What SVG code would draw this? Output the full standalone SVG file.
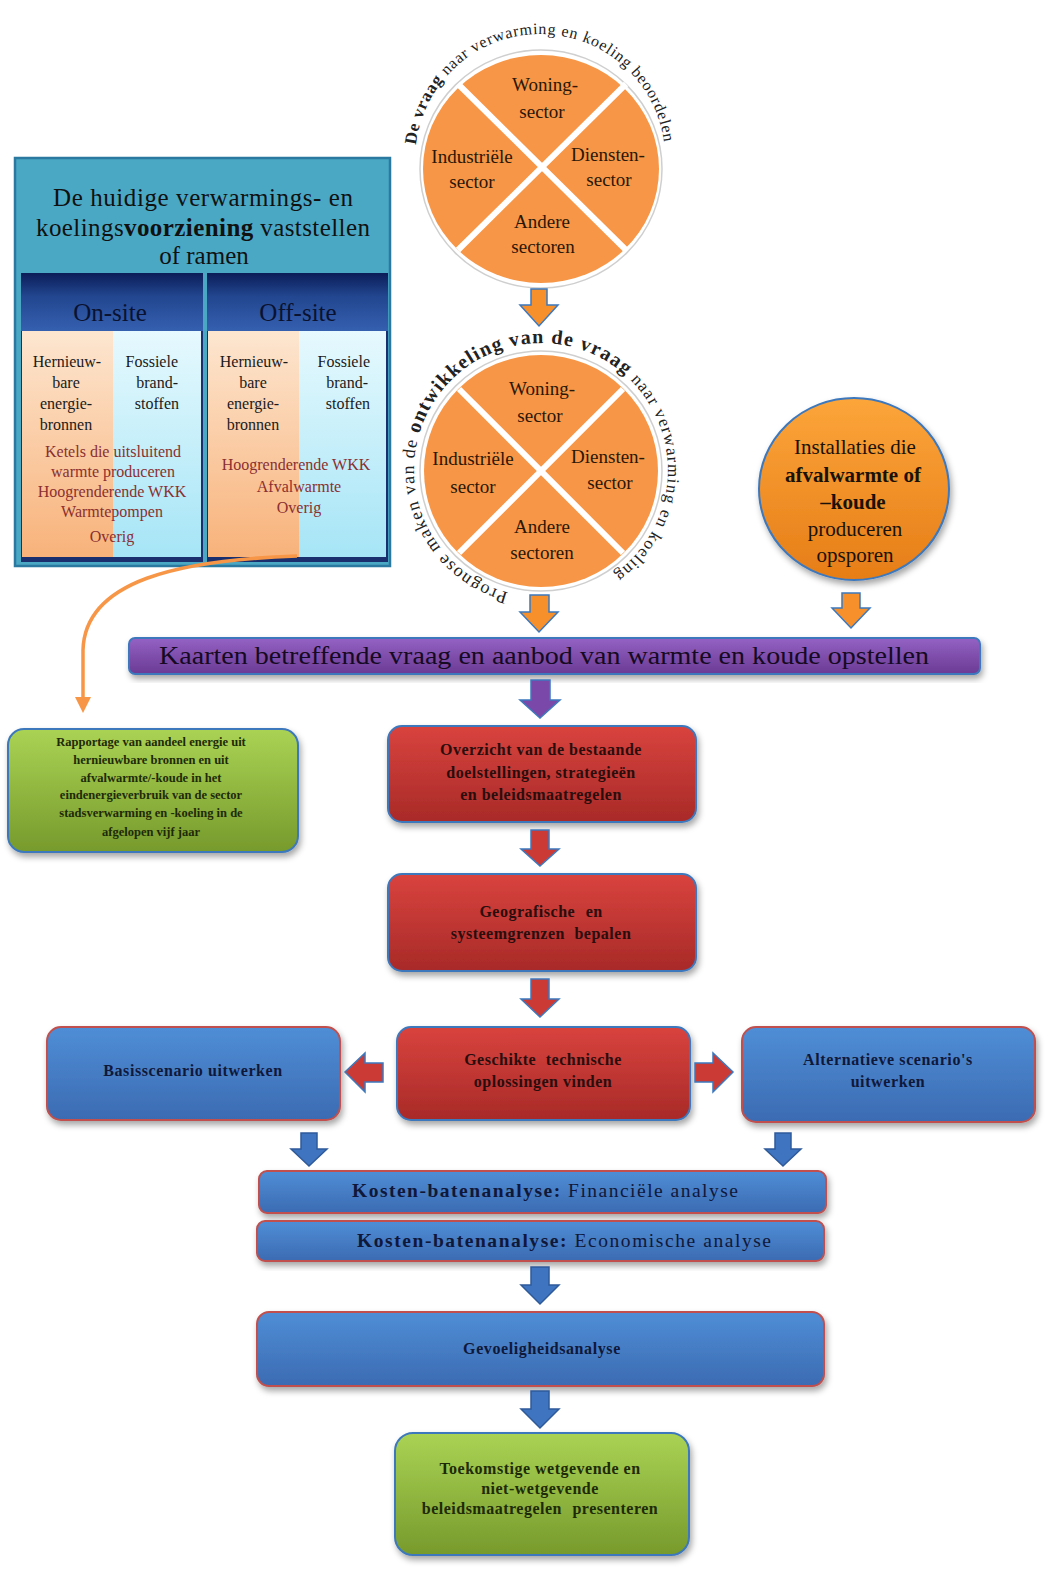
<svg xmlns="http://www.w3.org/2000/svg" width="1058" height="1575" viewBox="0 0 1058 1575">
<defs>
<filter id="sh" x="-10%" y="-10%" width="125%" height="135%"><feDropShadow dx="2" dy="4" stdDeviation="3" flood-color="#000" flood-opacity="0.35"/></filter>
<linearGradient id="gRed" x1="0" y1="0" x2="0" y2="1"><stop offset="0" stop-color="#d9433e"/><stop offset="1" stop-color="#a82a28"/></linearGradient>
<linearGradient id="gBlue" x1="0" y1="0" x2="0" y2="1"><stop offset="0" stop-color="#4f8ed6"/><stop offset="1" stop-color="#3b6bb2"/></linearGradient>
<linearGradient id="gGreen" x1="0" y1="0" x2="0" y2="1"><stop offset="0" stop-color="#aad354"/><stop offset="1" stop-color="#779a2c"/></linearGradient>
<linearGradient id="gPurple" x1="0" y1="0" x2="0" y2="1"><stop offset="0" stop-color="#9462c4"/><stop offset="1" stop-color="#6a3b94"/></linearGradient>
<linearGradient id="gOrange" x1="0" y1="0" x2="0" y2="1"><stop offset="0" stop-color="#fca53a"/><stop offset="1" stop-color="#e67d17"/></linearGradient>
<linearGradient id="gNavy" x1="0" y1="0" x2="0" y2="1"><stop offset="0" stop-color="#0b1d58"/><stop offset="0.4" stop-color="#22468f"/><stop offset="1" stop-color="#3560b0"/></linearGradient>
<linearGradient id="gPeach" x1="0" y1="0" x2="0" y2="1"><stop offset="0" stop-color="#fde6d0"/><stop offset="1" stop-color="#f8b27a"/></linearGradient>
<linearGradient id="gIce" x1="0" y1="0" x2="0" y2="1"><stop offset="0" stop-color="#e6f9fe"/><stop offset="1" stop-color="#a6e5f6"/></linearGradient>
<marker id="mOr" markerWidth="16" markerHeight="16" refX="8" refY="8" orient="auto" markerUnits="userSpaceOnUse"><path d="M0,0 L16,8 L0,16 Z" fill="#f79646"/></marker>
<path id="arc1" d="M 416 145 A 125 125 0 0 1 663.5 138.5"/>
<path id="arc2" d="M 508.1 592.7 A 127 127 0 0 1 529.9 343.5 A 127 127 0 0 1 600.6 582.1"/>
</defs>
<style>
.serif{font-family:"Liberation Serif","Times New Roman",serif}
.sec{font-family:"Liberation Serif",serif;font-size:19px;fill:#2a1706;text-anchor:middle}
.col{font-family:"Liberation Serif",serif;font-size:16px;fill:#1a1a1a}
.red{font-family:"Liberation Serif",serif;font-size:16px;fill:#8a3030;text-anchor:middle}
.bx{font-family:"Liberation Serif",serif;font-weight:bold;font-size:16px;fill:#2a0d0d;text-anchor:middle;letter-spacing:0.5px}
.bb{font-family:"Liberation Serif",serif;font-weight:bold;font-size:16px;fill:#10183a;text-anchor:middle;letter-spacing:0.6px}
.gt{font-family:"Liberation Serif",serif;font-weight:bold;font-size:12.5px;fill:#1e2a08;text-anchor:middle}
.arrO{fill:#f7902a;stroke:#3d78bd;stroke-width:1.5}
.arrP{fill:#7a48a8;stroke:#3d78bd;stroke-width:1.5}
.arrR{fill:#cc3a36;stroke:#3d78bd;stroke-width:1.5}
.arrB{fill:#3f74c0;stroke:#2e5a9a;stroke-width:1.5}
.cut{stroke:#fff;stroke-width:6}
</style>

<g id="demand-assess">
<ellipse cx="541" cy="169" rx="121" ry="119" fill="#fff" stroke="#cfcfcf" stroke-width="1.5"/>
<ellipse cx="541" cy="169" rx="118" ry="114" fill="#f79646"/>
<line class="cut" x1="458" y1="84" x2="626" y2="250"/>
<line class="cut" x1="626" y1="84" x2="458" y2="250"/>
<text class="sec" x="545" y="91">Woning-</text>
<text class="sec" x="542" y="118">sector</text>
<text class="sec" x="472" y="163">Industriële</text>
<text class="sec" x="472" y="188">sector</text>
<text class="sec" x="608" y="161">Diensten-</text>
<text class="sec" x="609" y="186">sector</text>
<text class="sec" x="542" y="228">Andere</text>
<text class="sec" x="543" y="253">sectoren</text>
<text class="serif" font-size="16" fill="#222" letter-spacing="0.8"><textPath href="#arc1"><tspan font-weight="bold" font-size="17">De vraag</tspan> naar verwarming en koeling beoordelen</textPath></text>
</g>

<g id="demand-forecast">
<ellipse cx="541" cy="471" rx="121" ry="120" fill="#fff" stroke="#cfcfcf" stroke-width="1.5"/>
<ellipse cx="541" cy="471" rx="117" ry="116" fill="#f79646"/>
<line class="cut" x1="459" y1="389" x2="623" y2="553"/>
<line class="cut" x1="623" y1="389" x2="459" y2="553"/>
<text class="sec" x="542" y="395">Woning-</text>
<text class="sec" x="540" y="422">sector</text>
<text class="sec" x="473" y="465">Industriële</text>
<text class="sec" x="473" y="493">sector</text>
<text class="sec" x="608" y="463">Diensten-</text>
<text class="sec" x="610" y="489">sector</text>
<text class="sec" x="542" y="533">Andere</text>
<text class="sec" x="542" y="559">sectoren</text>
<text class="serif" font-size="18" fill="#222" letter-spacing="1.2"><textPath href="#arc2">Prognose maken van de <tspan font-weight="bold" font-size="20">ontwikkeling van de vraag</tspan> <tspan font-size="17">naar verwarming en koeling</tspan></textPath></text>
</g>

<g id="supply">
<rect x="15" y="158" width="375" height="408" fill="#4aa8c5" stroke="#2b78a0" stroke-width="2.5"/>
<text class="serif" font-size="25" fill="#111" x="53" y="206" textLength="300">De huidige verwarmings- en</text>
<text class="serif" font-size="25" fill="#111" x="36" y="236" textLength="334">koelings<tspan font-weight="bold">voorziening</tspan> vaststellen</text>
<text class="serif" font-size="25" fill="#111" text-anchor="middle" x="204" y="264">of ramen</text>
<rect x="21" y="273" width="182" height="289" fill="#1a2f6e"/>
<rect x="207" y="273" width="181" height="289" fill="#1a2f6e"/>
<rect x="21" y="273" width="182" height="58" fill="url(#gNavy)"/>
<rect x="207" y="273" width="181" height="58" fill="url(#gNavy)"/>
<rect x="22" y="331" width="91" height="226" fill="url(#gPeach)"/>
<rect x="113" y="331" width="88" height="226" fill="url(#gIce)"/>
<rect x="208" y="331" width="91" height="226" fill="url(#gPeach)"/>
<rect x="299" y="331" width="87" height="226" fill="url(#gIce)"/>
<text class="serif" font-size="25" fill="#0a1230" text-anchor="middle" x="110" y="321">On-site</text>
<text class="serif" font-size="25" fill="#0a1230" text-anchor="middle" x="298" y="321">Off-site</text>
<text class="col" text-anchor="middle" x="67" y="367">Hernieuw-</text>
<text class="col" text-anchor="middle" x="66" y="388">bare</text>
<text class="col" text-anchor="middle" x="66" y="409">energie-</text>
<text class="col" text-anchor="middle" x="66" y="430">bronnen</text>
<text class="col" text-anchor="end" x="178" y="367">Fossiele</text>
<text class="col" text-anchor="end" x="178" y="388">brand-</text>
<text class="col" text-anchor="end" x="179" y="409">stoffen</text>
<text class="red" x="113" y="457">Ketels die uitsluitend</text>
<text class="red" x="113" y="477">warmte produceren</text>
<text class="red" x="112" y="497">Hoogrenderende WKK</text>
<text class="red" x="112" y="517">Warmtepompen</text>
<text class="red" x="112" y="542">Overig</text>
<text class="col" text-anchor="middle" x="254" y="367">Hernieuw-</text>
<text class="col" text-anchor="middle" x="253" y="388">bare</text>
<text class="col" text-anchor="middle" x="253" y="409">energie-</text>
<text class="col" text-anchor="middle" x="253" y="430">bronnen</text>
<text class="col" text-anchor="end" x="370" y="367">Fossiele</text>
<text class="col" text-anchor="end" x="368" y="388">brand-</text>
<text class="col" text-anchor="end" x="370" y="409">stoffen</text>
<text class="red" x="296" y="470">Hoogrenderende WKK</text>
<text class="red" x="299" y="492">Afvalwarmte</text>
<text class="red" x="299" y="513">Overig</text>
</g>

<g id="waste-heat">
<ellipse cx="854" cy="489" rx="95" ry="91" fill="url(#gOrange)" stroke="#3d78bd" stroke-width="2" filter="url(#sh)"/>
<text class="serif" font-size="21" fill="#1a1208" text-anchor="middle" x="855" y="454">Installaties die</text>
<text class="serif" font-size="21" font-weight="bold" fill="#1a1208" text-anchor="middle" x="853" y="482">afvalwarmte of</text>
<text class="serif" font-size="21" font-weight="bold" fill="#1a1208" text-anchor="middle" x="853" y="509">–koude</text>
<text class="serif" font-size="21" fill="#1a1208" text-anchor="middle" x="855" y="536">produceren</text>
<text class="serif" font-size="21" fill="#1a1208" text-anchor="middle" x="855" y="562">opsporen</text>
</g>

<g id="maps">
<rect x="129" y="638" width="851" height="36" rx="6" fill="url(#gPurple)" stroke="#3d78bd" stroke-width="2" filter="url(#sh)"/>
<text class="serif" font-size="25" fill="#160a22" x="159" y="664" textLength="770" lengthAdjust="spacingAndGlyphs">Kaarten betreffende vraag en aanbod van warmte en koude opstellen</text>
</g>

<g id="report">
<rect x="8" y="729" width="290" height="123" rx="16" fill="url(#gGreen)" stroke="#3d78bd" stroke-width="2" filter="url(#sh)"/>
<text class="gt" x="151" y="746">Rapportage van aandeel energie uit</text>
<text class="gt" x="151" y="764">hernieuwbare bronnen en uit</text>
<text class="gt" x="151" y="782">afvalwarmte/-koude in het</text>
<text class="gt" x="151" y="799">eindenergieverbruik van de sector</text>
<text class="gt" x="151" y="817">stadsverwarming en -koeling in de</text>
<text class="gt" x="151" y="836">afgelopen vijf jaar</text>
</g>

<g id="overview">
<rect x="388" y="726" width="308" height="96" rx="14" fill="url(#gRed)" stroke="#3d78bd" stroke-width="2" filter="url(#sh)"/>
<text class="bx" x="541" y="755">Overzicht van de bestaande</text>
<text class="bx" x="541" y="778">doelstellingen, strategieën</text>
<text class="bx" x="541" y="800">en beleidsmaatregelen</text>
</g>

<g id="boundaries">
<rect x="388" y="874" width="308" height="97" rx="14" fill="url(#gRed)" stroke="#3d78bd" stroke-width="2" filter="url(#sh)"/>
<text class="bx" x="541" y="917" word-spacing="6">Geografische en</text>
<text class="bx" x="541" y="939" word-spacing="5">systeemgrenzen bepalen</text>
</g>

<g id="solutions">
<rect x="397" y="1027" width="293" height="93" rx="14" fill="url(#gRed)" stroke="#3d78bd" stroke-width="2" filter="url(#sh)"/>
<text class="bx" x="543" y="1065" word-spacing="5">Geschikte technische</text>
<text class="bx" x="543" y="1087">oplossingen vinden</text>
</g>

<g id="baseline">
<rect x="47" y="1027" width="293" height="93" rx="14" fill="url(#gBlue)" stroke="#c0504d" stroke-width="2" filter="url(#sh)"/>
<text class="bb" x="193" y="1076">Basisscenario uitwerken</text>
</g>

<g id="alternatives">
<rect x="742" y="1027" width="293" height="95" rx="14" fill="url(#gBlue)" stroke="#c0504d" stroke-width="2" filter="url(#sh)"/>
<text class="bb" x="888" y="1065">Alternatieve scenario's</text>
<text class="bb" x="888" y="1087">uitwerken</text>
</g>

<g id="cba-financial">
<rect x="259" y="1171" width="567" height="42" rx="8" fill="url(#gBlue)" stroke="#c0504d" stroke-width="2" filter="url(#sh)"/>
<text class="serif" font-size="19.5" fill="#10183a" x="352" y="1197" textLength="386"><tspan font-weight="bold">Kosten-batenanalyse:</tspan> Financiële analyse</text>
</g>

<g id="cba-economic">
<rect x="257" y="1221" width="567" height="40" rx="8" fill="url(#gBlue)" stroke="#c0504d" stroke-width="2" filter="url(#sh)"/>
<text class="serif" font-size="19.5" fill="#10183a" x="357" y="1247" textLength="414"><tspan font-weight="bold">Kosten-batenanalyse:</tspan> Economische analyse</text>
</g>

<g id="sensitivity">
<rect x="257" y="1312" width="567" height="74" rx="12" fill="url(#gBlue)" stroke="#c0504d" stroke-width="2" filter="url(#sh)"/>
<text class="bb" x="542" y="1354">Gevoeligheidsanalyse</text>
</g>

<g id="policy">
<rect x="395" y="1433" width="294" height="122" rx="18" fill="url(#gGreen)" stroke="#3d78bd" stroke-width="2" filter="url(#sh)"/>
<text class="bx" style="fill:#1e2a08" x="540" y="1474">Toekomstige wetgevende en</text>
<text class="bx" style="fill:#1e2a08" x="540" y="1494">niet-wetgevende</text>
<text class="bx" style="fill:#1e2a08" x="540" y="1514" word-spacing="6">beleidsmaatregelen presenteren</text>
</g>

<g id="connectors">
<path d="M 297 556 C 180 560, 85 580, 83 650 L 83 705" fill="none" stroke="#f79646" stroke-width="3.5" marker-end="url(#mOr)"/>
<polygon class="arrO" points="531,289 547,289 547,305 558,305 539,326 520,305 531,305"/>
<polygon class="arrO" points="530,595 549,595 549,612 558,612 539,632 520,612 530,612"/>
<polygon class="arrO" points="842,593 860,593 860,608 870,608 851,628 832,608 842,608"/>
<polygon class="arrP" points="531,680 550,680 550,700 560,700 540,718 520,700 531,700"/>
<polygon class="arrR" points="531,830 549,830 549,849 559,849 540,866 521,849 531,849"/>
<polygon class="arrR" points="531,979 549,979 549,999 559,999 540,1017 521,999 531,999"/>
<polygon class="arrR" points="383,1063 365,1063 365,1053 345,1072 365,1092 365,1082 383,1082"/>
<polygon class="arrR" points="695,1063 713,1063 713,1053 733,1072 713,1092 713,1082 695,1082"/>
<polygon class="arrB" points="301,1133 317,1133 317,1149 327,1149 309,1166 291,1149 301,1149"/>
<polygon class="arrB" points="775,1133 791,1133 791,1149 801,1149 783,1166 765,1149 775,1149"/>
<polygon class="arrB" points="531,1267 549,1267 549,1285 559,1285 540,1304 521,1285 531,1285"/>
<polygon class="arrB" points="531,1391 549,1391 549,1409 559,1409 540,1428 521,1409 531,1409"/>
</g>
</svg>
